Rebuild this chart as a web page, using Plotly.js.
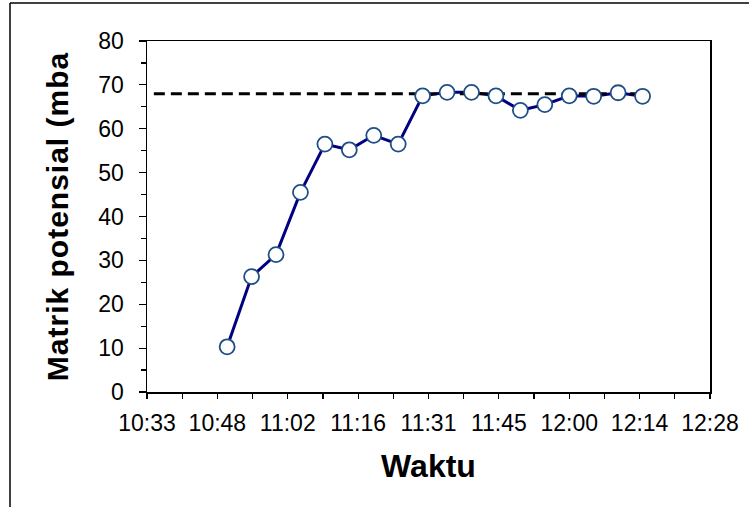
<!DOCTYPE html>
<html>
<head>
<meta charset="utf-8">
<script src="https://cdn.plot.ly/plotly-3.0.1.min.js"></script>
<style>
html, body { margin: 0; padding: 0; background: #fff; }
#chart { width: 749px; height: 507px; }
#chart .g-ytitle text { letter-spacing: 1px; }
</style>
</head>
<body>
<div id="chart"></div>
<script>
// Measurement times (hh:mm) and matric potential values (mbar)
var times = ["10:50","10:55","11:00","11:05","11:10","11:15","11:20","11:25","11:30",
             "11:35","11:40","11:45","11:50","11:55","12:00","12:05","12:10","12:15"];
var potential = [10.3, 26.3, 31.3, 45.5, 56.5, 55.2, 58.5, 56.5, 67.5,
                 68.3, 68.3, 67.5, 64.2, 65.5, 67.5, 67.4, 68.2, 67.4];

// Dashed reference line
var refTimes = ["10:35", "12:15"];
var refValues = [68, 68];

// Axis tick labels (Excel time axis, major unit 0.01 day)
var xTickLabels = ["10:33","10:48","11:02","11:16","11:31","11:45","12:00","12:14","12:28"];
var xTickDays = [0.44, 0.45, 0.46, 0.47, 0.48, 0.49, 0.50, 0.51, 0.52];

function toDay(t) {
  var p = t.split(":");
  return (parseInt(p[0], 10) * 60 + parseInt(p[1], 10)) / 1440;
}

var xs = times.map(toDay);
var refXs = refTimes.map(toDay);

var FONT = "Liberation Sans, Arial, sans-serif";

var traces = [
  {
    x: xs, y: potential, type: "scatter", mode: "lines",
    line: { color: "#000080", width: 3 },
    hoverinfo: "skip", showlegend: false
  },
  {
    x: refXs, y: refValues, type: "scatter", mode: "lines",
    line: { color: "#000000", width: 3, dash: "11px,6px" },
    hoverinfo: "skip", showlegend: false
  },
  {
    x: xs, y: potential, type: "scatter", mode: "markers",
    marker: { symbol: "circle", size: 15, color: "#ffffff",
              line: { color: "#1f4e85", width: 1.8 } },
    showlegend: false
  }
];

var layout = {
  width: 749, height: 507,
  margin: { l: 147, r: 39, t: 41, b: 115, pad: 0 },
  paper_bgcolor: "#ffffff", plot_bgcolor: "#ffffff",
  font: { family: FONT, color: "#000" },
  xaxis: {
    range: [0.44, 0.52],
    tickmode: "array", tickvals: xTickDays, ticktext: xTickLabels,
    ticks: "outside", ticklen: 5, tickwidth: 1.2, tickcolor: "#000",
    minor: { ticks: "outside", dtick: 0.005, tick0: 0.44, ticklen: 5, tickwidth: 1.2, tickcolor: "#000", showgrid: false },
    showgrid: false, zeroline: false,
    showline: true, linecolor: "#000", linewidth: 1.5, mirror: true,
    tickfont: { family: FONT, size: 23, color: "#000" },
    ticklabelstandoff: 5,
    title: { text: "Waktu", font: { family: FONT, size: 32, weight: "bold", color: "#000" }, standoff: 19 },
    fixedrange: true
  },
  yaxis: {
    range: [0, 80], dtick: 10, tick0: 0,
    ticks: "outside", ticklen: 7, tickwidth: 1.2, tickcolor: "#000",
    minor: { ticks: "outside", dtick: 5, ticklen: 5, tickwidth: 1.2, tickcolor: "#000", showgrid: false },
    showgrid: false, zeroline: false,
    showline: true, linecolor: "#000", linewidth: 1.5, mirror: true,
    tickfont: { family: FONT, size: 23, color: "#000" },
    ticklabelstandoff: 10,
    title: { text: "Matrik potensial (mba", font: { family: FONT, size: 30, weight: "bold", color: "#000" }, standoff: 21 },
    fixedrange: true
  },
  shapes: [
    { type: "line", xref: "paper", yref: "paper",
      x0: (10 - 147) / 563, x1: (760 - 147) / 563,
      y0: (392 - 3) / 351, y1: (392 - 3) / 351,
      line: { color: "#000", width: 1.5 } },
    { type: "line", xref: "paper", yref: "paper",
      x0: (10 - 147) / 563, x1: (10 - 147) / 563,
      y0: (392 - 3) / 351, y1: (392 - 520) / 351,
      line: { color: "#000", width: 1.5 } }
  ]
};

Plotly.newPlot("chart", traces, layout, { displayModeBar: false, staticPlot: true });
</script>
</body>
</html>
